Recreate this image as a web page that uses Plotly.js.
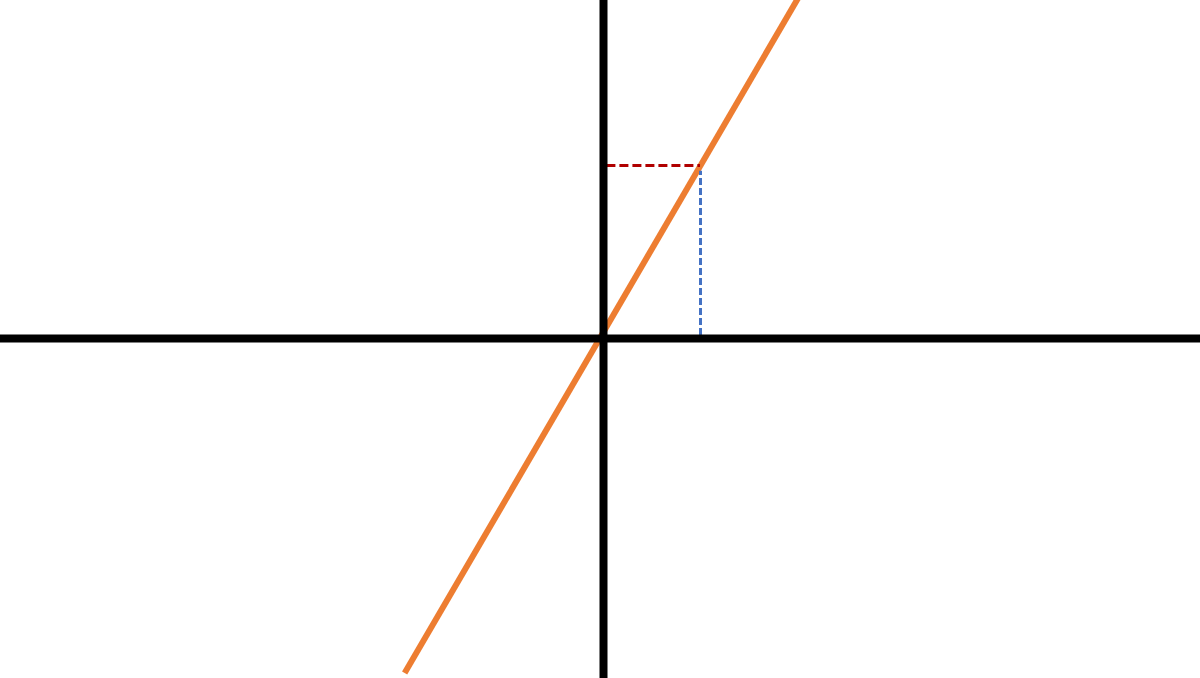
<!DOCTYPE html>
<html>
<head>
<meta charset="utf-8">
<script src="https://cdn.plot.ly/plotly-3.0.1.min.js"></script>
<style>html,body{margin:0;padding:0;background:#fff;}#chart{width:1200px;height:678px;}</style>
</head>
<body>
<div id="chart"></div>
<script>
// Orange line y = f(x) (two endpoints)
const lineX = [-2.05, 2.04];
const lineY = [-1.934, 2.0];
// Marked point on the line
const pointX = 1.0;
const pointY = 1.0;
// Red dashed guide: from y-axis to the point
const hGuideX = [0.03, 0.995];
const hGuideY = [pointY, pointY];
// Blue dashed guide: from x-axis up to the point
const vGuideX = [pointX, pointX];
const vGuideY = [0.02, 0.97];
// Coordinate axes extents
const xAxisX = [-7, 7];
const xAxisY = [0, 0];
const yAxisX = [0, 0];
const yAxisY = [-3, 3];

const traces = [
  {x: lineX, y: lineY, mode: 'lines', line: {color: '#ED7D31', width: 6}},
  {x: hGuideX, y: hGuideY, mode: 'lines', line: {color: '#B00000', width: 3, dash: '9px,4px'}},
  {x: vGuideX, y: vGuideY, mode: 'lines', line: {color: '#4472C4', width: 3, dash: '7px,3px'}},
  {x: xAxisX, y: xAxisY, mode: 'lines', line: {color: '#000000', width: 8}},
  {x: yAxisX, y: yAxisY, mode: 'lines', line: {color: '#000000', width: 8}}
];

const layout = {
  width: 1200, height: 678,
  margin: {l: 0, r: 0, t: 0, b: 0, pad: 0},
  paper_bgcolor: '#ffffff', plot_bgcolor: '#ffffff',
  showlegend: false,
  hovermode: false,
  xaxis: {range: [-6.2216, 6.1495], visible: false, fixedrange: true},
  yaxis: {range: [-1.9624, 1.9566], visible: false, fixedrange: true}
};

Plotly.newPlot('chart', traces, layout, {staticPlot: true, displayModeBar: false});
</script>
</body>
</html>
